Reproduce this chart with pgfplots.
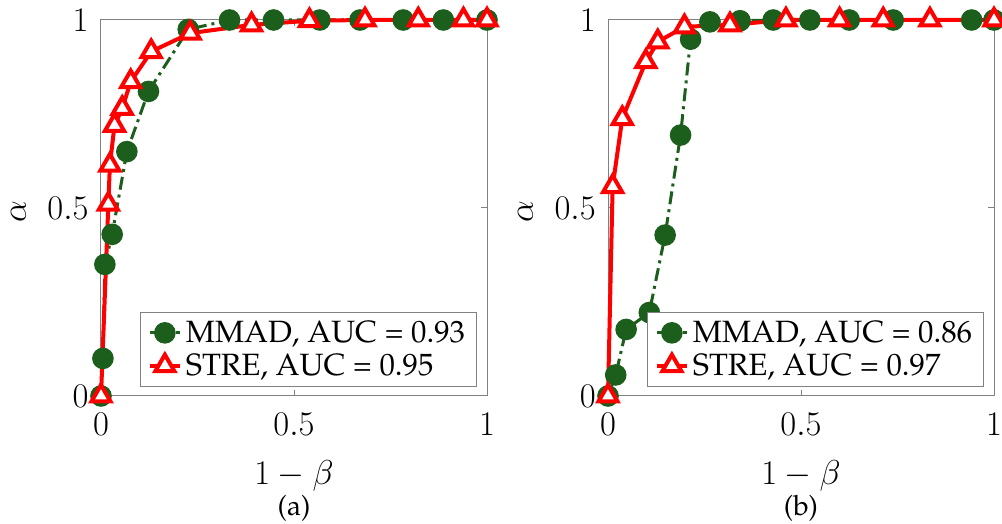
\documentclass[border=0pt]{standalone}
\usepackage{pgfplots}
\pgfplotsset{compat=1.18}
\newcommand{\pal}{\fontencoding{OT1}\fontfamily{ppl}\fontsize{15.4}{18}\selectfont}
\newcommand{\palcap}{\fontencoding{OT1}\fontfamily{ppl}\fontsize{14}{17}\selectfont}
\definecolor{mgreen}{rgb}{0.11,0.37,0.11}
\definecolor{axgray}{rgb}{0.5,0.5,0.5}
\pgfplotsset{
  roc/.style={
    width=193pt, height=188pt, scale only axis,
    xmin=0, xmax=1, ymin=0, ymax=1,
    xtick={0,0.5,1}, ytick={0,0.5,1},
    tick align=inside, major tick length=3pt,
    axis line style={axgray, line width=0.5pt},
    every tick/.style={axgray, line width=0.5pt},
    tick label style={font=\fontsize{19}{22}\selectfont, inner sep=0pt},
    xticklabel style={anchor=north, yshift=-8.5pt},
    yticklabel style={anchor=east, xshift=-6pt},
    label style={font=\fontsize{19}{22}\selectfont, inner sep=0pt},
    xlabel={$1-\beta$},
    ylabel={$\alpha$},
    xlabel style={at={(axis description cs:0.5,-0.2367)}, anchor=base},
    ylabel style={at={(axis description cs:-0.214,0.49)}, anchor=center},
    clip=false,
    legend cell align=left,
    legend style={font=\pal, draw=axgray, line width=0.5pt, fill=white,
      at={(axis description cs:0.973,0.025)}, anchor=south east,
      inner xsep=3.5pt, inner ysep=2pt, row sep=0pt},
    legend image code/.code={\draw[mark repeat=2,mark phase=2,##1] plot coordinates {(0pt,0pt) (7.5pt,0pt) (15pt,0pt)};},
  },
  mm/.style={mgreen, line width=1.5pt, dash pattern=on 6.5pt off 2.5pt on 1.5pt off 2.5pt,
    mark=*, mark size=5pt, mark options={solid, fill=mgreen, draw=mgreen, line width=0.8pt}},
  st/.style={red, line width=2pt, mark=triangle*, mark size=5.5pt,
    mark options={solid, fill=white, draw=red, line width=2pt}},
}
\begin{document}
\begin{tikzpicture}
\path[use as bounding box] (0,0) rectangle (501pt,262pt);
\begin{axis}[roc, at={(50.5pt,64pt)}, anchor=south west]
\addplot[mm] coordinates {
(0,0) (0.005,0.10) (0.01,0.35) (0.029,0.43) (0.067,0.65) (0.123,0.81)
(0.226,0.975) (0.333,1.0) (0.447,1.0) (0.567,1.0) (0.671,1.0) (0.783,1.0)
(0.887,1.0) (1,1)};
\addlegendentry{MMAD, AUC = 0.93}
\addplot[st] coordinates {
(0,0) (0.019,0.51) (0.023,0.614) (0.035,0.72) (0.055,0.765) (0.077,0.836)
(0.13,0.916) (0.231,0.965) (0.39,0.987) (0.54,0.998) (0.684,1) (0.822,1)
(0.939,1) (1,1)};
\addlegendentry{STRE, AUC = 0.95}
\node[font=\palcap, anchor=base, inner sep=0pt] at (axis description cs:0.5,-0.3184) {(a)};
\end{axis}
\begin{axis}[roc, at={(304pt,64pt)}, anchor=south west]
\addplot[mm] coordinates {
(0,0) (0.02,0.056) (0.047,0.177) (0.107,0.222) (0.148,0.428) (0.188,0.694)
(0.214,0.949) (0.264,0.995) (0.342,0.998) (0.428,1) (0.523,1) (0.625,1)
(0.739,1) (0.942,1) (1,1)};
\addlegendentry{MMAD, AUC = 0.86}
\addplot[st] coordinates {
(0,0) (0.012,0.557) (0.037,0.738) (0.098,0.889) (0.129,0.942) (0.198,0.982)
(0.316,0.987) (0.461,1) (0.6,1) (0.713,1) (0.834,1) (1,1)};
\addlegendentry{STRE, AUC = 0.97}
\node[font=\palcap, anchor=base, inner sep=0pt] at (axis description cs:0.5,-0.3184) {(b)};
\end{axis}
\end{tikzpicture}
\end{document}
